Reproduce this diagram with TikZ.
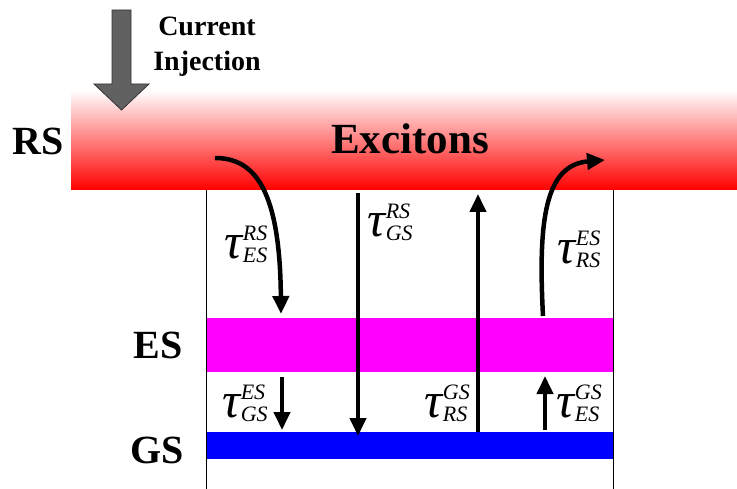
\documentclass[tikz,border=0pt]{standalone}
\usepackage{fontspec}
\setmainfont{Liberation Serif}
\usetikzlibrary{arrows.meta,positioning}
\definecolor{esmagenta}{RGB}{255,0,255}
\definecolor{gsblue}{RGB}{0,0,255}

% tau with stacked upper and lower index
\newcommand{\rate}[2]{\mbox{\fontsize{50}{50}\selectfont\itshape τ\kern0.5pt\fontsize{22}{22}\selectfont\raisebox{18pt}{\rlap{#1}}\raisebox{-4pt}{#2}}}

\begin{document}
\begin{tikzpicture}[x=1pt,y=-1pt,
  band/.style={inner sep=0pt,outer sep=0pt,draw=none},
  lab/.style={font=\fontsize{40}{40}\selectfont\bfseries,inner sep=0pt},
  ratelab/.style={inner sep=0pt},
  arrow/.style={-{Triangle[length=18pt 0,width=16pt 0]},line width=4pt}]
\useasboundingbox (0,0) rectangle (737,489);
% levels
\node[band,shade,top color=white,bottom color=red,minimum width=666pt,minimum height=100pt] (rs) at (404,140) {};
\node[band,fill=esmagenta,minimum width=407pt,minimum height=54pt] (es) at (409.5,345) {};
\node[band,fill=gsblue,minimum width=407pt,minimum height=27pt] (gs) at (409.5,445.5) {};
\coordinate (bl) at (206,489); \coordinate (br) at (613,489);
\draw[line width=0.8pt] (rs.south -| bl) -- (bl);
\draw[line width=0.8pt] (rs.south -| br) -- (br);
% level names
\node[lab] (lrs) at (38,141) {RS};
\node[lab] (les) at (158,345) {ES};
\node[lab] (lgs) at (157.5,450) {GS};
\node[lab,font=\fontsize{43}{43}\selectfont\bfseries] (exc) at (410,138.5) {Excitons};
% current injection
\draw[fill=black!62,draw=black!80,line width=0.8pt] (112,10) -- (131,10) -- (131,84) -- (149,84)
  -- (121.5,110) -- (94,84) -- (112,84) -- cycle;
\node[align=center,inner sep=0pt,font=\fontsize{28}{35}\selectfont\bfseries] (inj) at (207,47) {Current\\Injection};
% transitions
\coordinate (a1) at (215,158); \coordinate (a1e) at (281,314);
\coordinate (a2) at (358,193); \coordinate (a2e) at (358,436);
\coordinate (a3) at (478,432); \coordinate (a3e) at (478,194);
\coordinate (a4) at (543,316); \coordinate (a4e) at (605,160);
\coordinate (a5) at (282,377); \coordinate (a5e) at (282,430);
\coordinate (a6) at (545,430); \coordinate (a6e) at (545,376);
\draw[arrow,line width=4.5pt] (a1) .. controls (255,158) and (280,190) .. (a1e);
\draw[arrow] (a2) -- (a2e);
\draw[arrow] (a3) -- (a3e);
\draw[arrow,line width=4.5pt] (a4) .. controls (538,220) and (545,165) .. (a4e);
\draw[arrow] (a5) -- (a5e);
\draw[arrow] (a6) -- (a6e);
\node[ratelab] (t1) at (246,244) {\rate{RS}{ES}};
\node[ratelab] (t2) at (390,222) {\rate{RS}{GS}};
\node[ratelab] (t3) at (446,403) {\rate{GS}{RS}};
\node[ratelab] (t4) at (579,249) {\rate{ES}{RS}};
\node[ratelab] (t5) at (245,403) {\rate{ES}{GS}};
\node[ratelab] (t6) at (578,403) {\rate{GS}{ES}};
\end{tikzpicture}
\end{document}
